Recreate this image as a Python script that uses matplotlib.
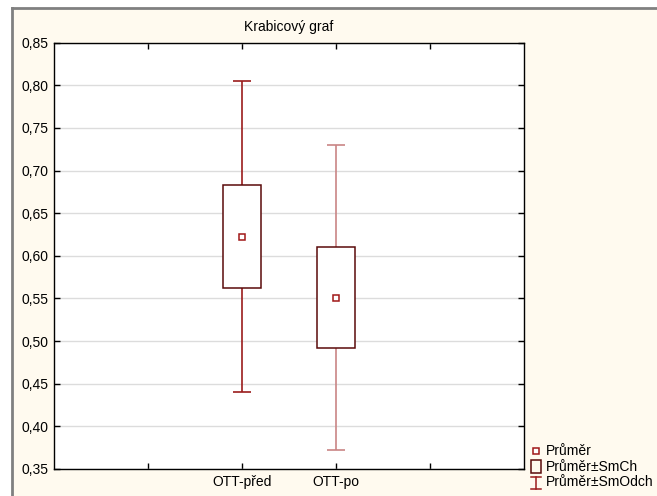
import matplotlib
matplotlib.use("Agg")
import matplotlib.pyplot as plt
from matplotlib.lines import Line2D
from matplotlib.patches import Rectangle
from matplotlib.ticker import FuncFormatter

plt.rcParams["font.family"] = ["Liberation Sans", "DejaVu Sans"]
plt.rcParams["font.size"] = 10

# values
categories = ["OTT-před", "OTT-po"]
means = [0.6225, 0.551]
std_err = [0.0605, 0.059]
std_dev = [0.1823, 0.179]
whisker_colors = ["#9b1c1c", "#c98585"]
legend_labels = ["Průměr", "Průměr±SmCh", "Průměr±SmOdch"]

BG = "#fffaef"
BOX_EDGE = "#5a0a0a"
MEAN_EDGE = "#a01818"


def fx(px):
    return px / 657


def fy(py):
    return 1 - py / 496


fig = plt.figure(figsize=(6.57, 4.96), dpi=100, facecolor="white")

# cream panel with grey frame (only its left and top edges fall inside the image)
fig.patches.append(Rectangle((fx(12), -0.1), 1.2, fy(8) + 0.1, transform=fig.transFigure,
                             facecolor=BG, edgecolor="none", zorder=-5))
fig.add_artist(Line2D([fx(12), fx(12)], [fy(8), -0.1], color="#808080", linewidth=2,
                      transform=fig.transFigure))
fig.add_artist(Line2D([fx(12), 1.1], [fy(8), fy(8)], color="#808080", linewidth=2,
                      transform=fig.transFigure))

ax = fig.add_axes([fx(54), fy(469), fx(470), fy(42.7) - fy(469)])
ax.set_facecolor("white")

xs = [2, 3]
box_w = 0.4
cap_w = 0.19
for x, m, se, sd, wc in zip(xs, means, std_err, std_dev, whisker_colors):
    ax.vlines(x, m - sd, m + sd, color=wc, linewidth=1.2, zorder=2)
    ax.hlines([m - sd, m + sd], x - cap_w / 2, x + cap_w / 2, color=wc, linewidth=1.2, zorder=2)
    ax.bar(x, 2 * se, bottom=m - se, width=box_w, facecolor="white",
           edgecolor=BOX_EDGE, linewidth=1.1, zorder=3)
    ax.plot(x, m, marker="s", markersize=5, markerfacecolor="white",
            markeredgecolor=MEAN_EDGE, markeredgewidth=1.1, zorder=4)

ax.set_xlim(0, 5)
ax.set_ylim(0.35, 0.85)
ax.set_xticks([1, 2, 3, 4])
ax.set_xticklabels(["", categories[0], categories[1], ""])
ax.set_yticks([0.35 + 0.05 * i for i in range(11)])
ax.yaxis.set_major_formatter(FuncFormatter(lambda v, p: f"{v:.2f}".replace(".", ",")))
ax.tick_params(direction="in", length=4, width=1, top=True, right=True, pad=4)
ax.grid(axis="y", color="#dcdcdc", linewidth=1)
ax.set_axisbelow(True)
for s in ax.spines.values():
    s.set_color("black")
    s.set_linewidth(1)

fig.text(fx(289), fy(27), "Krabicový graf", ha="center", va="center")

# legend drawn by hand in figure pixels
tx = fx(546)
fig.add_artist(Line2D([fx(536)], [fy(450.5)], marker="s", markersize=5,
                      markerfacecolor="white", markeredgecolor=MEAN_EDGE,
                      markeredgewidth=1.1, transform=fig.transFigure))
fig.text(tx, fy(451), legend_labels[0], va="center")
fig.add_artist(Rectangle((fx(531), fy(472.5)), fx(541) - fx(531), fy(460) - fy(472.5),
                         transform=fig.transFigure, facecolor="none",
                         edgecolor=BOX_EDGE, linewidth=1.1))
fig.text(tx, fy(467), legend_labels[1], va="center")
fig.add_artist(Line2D([fx(536), fx(536)], [fy(476.5), fy(488.5)], color=whisker_colors[0],
                      linewidth=1.1, transform=fig.transFigure))
for yy in (476.5, 488.5):
    fig.add_artist(Line2D([fx(531), fx(541)], [fy(yy), fy(yy)], color=whisker_colors[0],
                          linewidth=1.1, transform=fig.transFigure))
fig.text(tx, fy(482), legend_labels[2], va="center")

fig.savefig("out.png", dpi=100, facecolor="white")
